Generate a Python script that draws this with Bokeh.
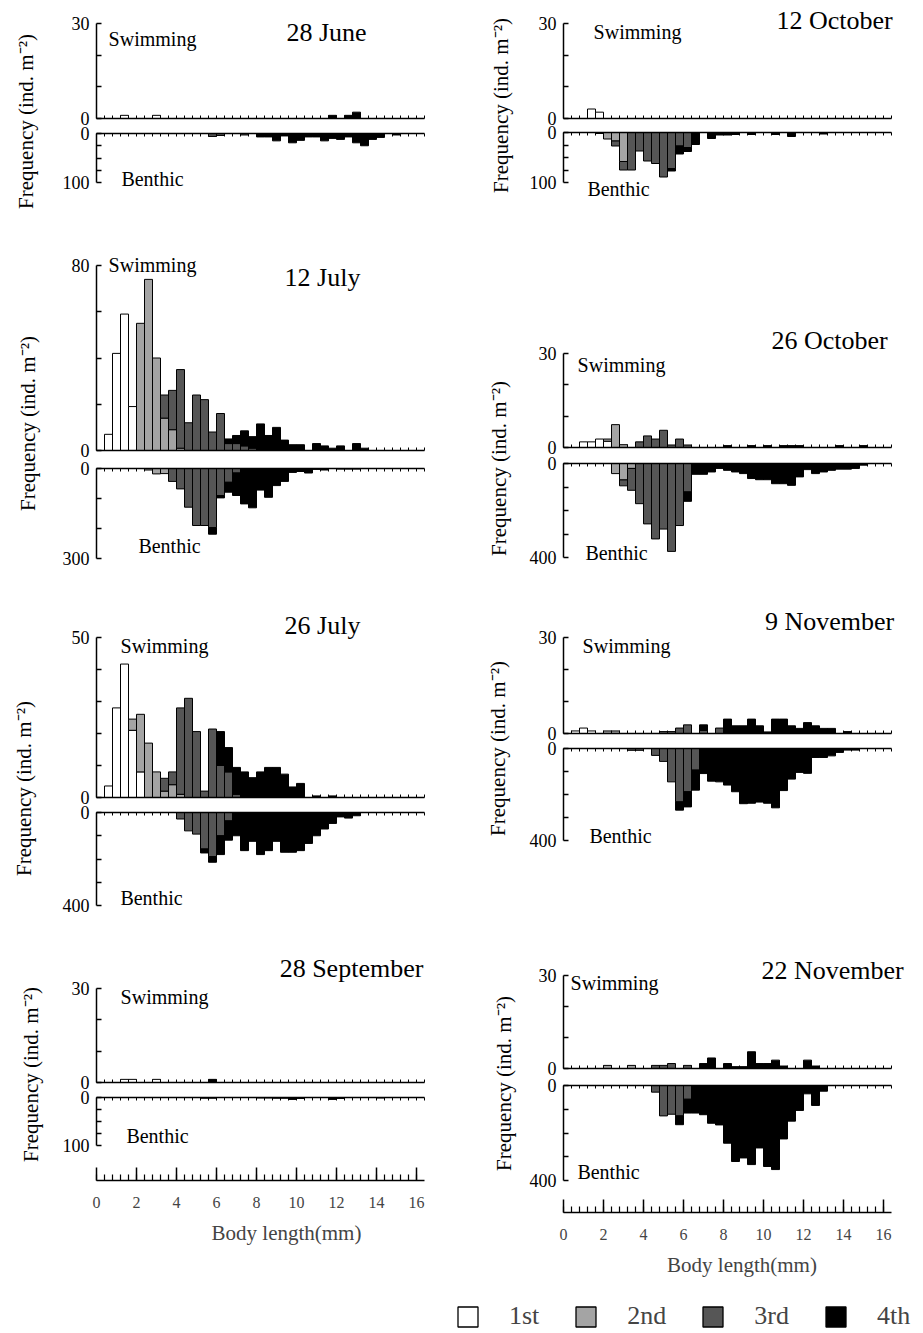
import math
import numpy as np
from bokeh.plotting import figure
from bokeh.models import (Range1d, LinearAxis, FixedTicker, Label, Spacer,
                          Legend, LegendItem, ColumnDataSource)
from bokeh.layouts import column, row
from bokeh.embed import file_html
from bokeh.resources import INLINE

FONT = "Liberation Serif"

# ---------------- data ----------------
BIN_CENTERS = [0.2, 0.6, 1.0, 1.4, 1.8, 2.2, 2.6, 3.0, 3.4, 3.8,
               4.2, 4.6, 5.0, 5.4, 5.8, 6.2, 6.6, 7.0, 7.4, 7.8,
               8.2, 8.6, 9.0, 9.4, 9.8, 10.2, 10.6, 11.0, 11.4, 11.8,
               12.2, 12.6, 13.0, 13.4, 13.8, 14.2, 14.6, 15.0, 15.4, 15.8]
BIN_WIDTH = 0.4
X_MAJOR = [0, 2, 4, 6, 8, 10, 12, 14, 16]
X_AXIS_END = 16.4
INSTARS = ["1st", "2nd", "3rd", "4th"]
INSTAR_COLORS = {"1st": "#ffffff", "2nd": "#a4a4a4", "3rd": "#565656", "4th": "#000000"}

# 28 June
JUN28_SWIM_1ST = [0,0,0,1,0,0,0,1,0,0, 0,0,0,0,0,0,0,0,0,0, 0,0,0,0,0,0,0,0,0,0, 0,0,0,0,0,0,0,0,0,0]
JUN28_SWIM_4TH = [0,0,0,0,0,0,0,0,0,0, 0,0,0,0,0,0,0,0,0,0, 0,0,0,0,0,0,0,0,0,1, 0,1,2,0,0,0,0,0,0,0]
JUN28_BENTH_3RD = [0,0,0,0,0,0,0,0,0,0, 0,0,0,0,6,4,0,0,3,0, 0,0,0,0,0,0,0,0,0,0, 0,0,0,0,0,0,0,0,0,0]
JUN28_BENTH_4TH = [0,0,0,0,0,0,0,0,0,0, 0,0,0,0,0,0,0,0,0,0, 7,7,15,5,19,14,7,7,15,10, 12,7,19,25,12,8,0,3,0,0]

# 12 July
JUL12_SWIM_1ST = [0,7,42,59,19,0,0,0,0,0, 0,0,0,0,0,0,0,0,0,0, 0,0,0,0,0,0,0,0,0,0, 0,0,0,0,0,0,0,0,0,0]
JUL12_SWIM_2ND = [0,0,0,0,0,55,74,40,14,9, 1,0,0,0,0,0,0,0,0,0, 0,0,0,0,0,0,0,0,0,0, 0,0,0,0,0,0,0,0,0,0]
JUL12_SWIM_3RD = [0,0,0,0,0,0,0,0,10,17, 34,12,24,22,8,16,3,3,2,1, 0,0,0,0,0,0,0,0,0,0, 0,0,0,0,0,0,0,0,0,0]
JUL12_SWIM_4TH = [0,0,0,0,0,0,0,0,0,0, 0,0,0,0,0,0,2,3.5,6.5,5, 11.5,6.5,10,4.5,2.5,2.5,0,3,2,1, 2,0,3,1,0,0,0,0,0,0]
JUL12_BENTH_2ND = [0,0,0,0,0,0,5,18,17,0, 0,0,0,0,0,0,0,0,0,0, 0,0,0,0,0,0,0,0,0,0, 0,0,0,0,0,0,0,0,0,0]
JUL12_BENTH_3RD = [0,0,0,0,0,0,0,0,0,43, 68,129,190,190,197,90,46,15,0,0, 0,0,0,0,0,0,0,0,0,0, 0,0,0,0,0,0,0,0,0,0]
JUL12_BENTH_4TH = [0,0,0,0,0,0,0,0,0,0, 0,0,0,0,22,8,33,75,118,131, 72,96,57,43,13,10,15,3,5,0, 2,2,2,0,0,0,0,0,0,0]

# 26 July
JUL26_SWIM_1ST = [0,3.6,28,41.7,21,8,0,0,0,0, 0,0,0,0,0,0,0,0,0,0, 0,0,0,0,0,0,0,0,0,0, 0,0,0,0,0,0,0,0,0,0]
JUL26_SWIM_2ND = [0,0,0,0,3.5,18,17,8,2,4, 1,0,0,0,0,0,0,0,0,0, 0,0,0,0,0,0,0,0,0,0, 0,0,0,0,0,0,0,0,0,0]
JUL26_SWIM_3RD = [0,0,0,0,0,0,0,0,4,4, 27,31,20.6,2,21.4,10,8,1,0,0, 0,0,0,0,0,0,0,0,0,0, 0,0,0,0,0,0,0,0,0,0]
JUL26_SWIM_4TH = [0,0,0,0,0,0,0,0,0,0, 0,0,0,0,0,10.6,7.6,8.4,8,6.2, 8,9.4,9.4,7.3,3.3,4.4,0,0.5,0,0.5, 0,0,0,0,0,0,0,0,0,0]
JUL26_BENTH_3RD = [0,0,0,0,0,0,0,0,0,0, 28,79,93,157,190,100,36,0,0,0, 0,0,0,0,0,0,0,0,0,0, 0,0,0,0,0,0,0,0,0,0]
JUL26_BENTH_4TH = [0,0,0,0,0,0,0,0,0,0, 0,0,0,17,24,81,83,100,164,124, 181,164,124,171,171,164,133,100,71,47, 19,24,14,0,0,0,0,0,0,0]

# 28 September
SEP28_SWIM_1ST = [0,0,0,1,1,0,0,1,0,0, 0,0,0,0,0,0,0,0,0,0, 0,0,0,0,0,0,0,0,0,0, 0,0,0,0,0,0,0,0,0,0]
SEP28_SWIM_4TH = [0,0,0,0,0,0,0,0,0,0, 0,0,0,0,1,0,0,0,0,0, 0,0,0,0,0,0,0,0,0,0, 0,0,0,0,0,0,0,0,0,0]
SEP28_BENTH_3RD = [0,0,0,0,0,0,0,0,0,0, 0,0,0,1.5,1.5,0,0,0,0,0, 0,0,0,0,0,0,0,0,0,0, 0,0,0,0,0,0,0,0,0,0]
SEP28_BENTH_4TH = [0,0,0,0,0,0,0,0,0,0, 0,0,0,0,0,0,0,0,0,0, 1,1,1.5,1.5,4,2,0,0,0,4, 2,0,0,0,0,1,0,0,0,0]

# 12 October
OCT12_SWIM_1ST = [0,0,0,3,2,0,0,0,0,0, 0,0,0,0,0,0,0,0,0,0, 0,0,0,0,0,0,0,0,0,0, 0,0,0,0,0,0,0,0,0,0]
OCT12_BENTH_2ND = [0,0,0,0,2,13,17,58,0,0, 0,0,0,0,0,0,0,0,0,0, 0,0,0,0,0,0,0,0,0,0, 0,0,0,0,0,0,0,0,0,0]
OCT12_BENTH_3RD = [0,0,0,0,0,0,10,17,75,37, 57,62,89,72,27,30,0,0,0,0, 0,0,0,0,0,0,0,0,0,0, 0,0,0,0,0,0,0,0,0,0]
OCT12_BENTH_4TH = [0,0,0,0,0,0,0,0,0,0, 0,0,0,5,16,8,24,0,12,5, 5,4,0,4,0,0,4,0,8,0, 0,0,3,0,0,0,0,0,0,0]

# 26 October
OCT26_SWIM_1ST = [0,0,1.8,1.8,2.7,2,0,0,0,0, 0,0,0,0,0,0,0,0,0,0, 0,0,0,0,0,0,0,0,0,0, 0,0,0,0,0,0,0,0,0,0]
OCT26_SWIM_2ND = [0,0,0,0,0,0.7,7.3,0.9,0,0, 0,0,0,0,0,0,0,0,0,0, 0,0,0,0,0,0,0,0,0,0, 0,0,0,0,0,0,0,0,0,0]
OCT26_SWIM_3RD = [0,0,0,0,0,0,0,0,0,1.8, 3.7,2.7,5.5,0.8,2.7,0.8,0,0,0,0, 0,0,0,0,0,0,0,0,0,0, 0,0,0,0,0,0,0,0,0,0]
OCT26_SWIM_4TH = [0,0,0,0,0,0,0,0,0,0, 0,0,0,0,0,0,0,0,0,0, 0.6,0,0,0.6,0,0.6,0,0.6,0.6,0.6, 0,0,0,0,0.6,0,0,0.6,0,0]
OCT26_BENTH_2ND = [0,0,0,0,0,0,43,70,21,0, 0,0,0,0,0,0,0,0,0,0, 0,0,0,0,0,0,0,0,0,0, 0,0,0,0,0,0,0,0,0,0]
OCT26_BENTH_3RD = [0,0,0,0,0,0,0,25,93,171, 257,321,279,374,264,121,0,0,0,0, 0,0,0,0,0,0,0,0,0,0, 0,0,0,0,0,0,0,0,0,0]
OCT26_BENTH_4TH = [0,0,0,0,0,0,0,0,0,0, 0,0,0,0,0,40,46,46,36,21, 29,36,43,64,69,69,86,86,93,57, 26,43,36,29,24,24,21,7,0,0]

# 9 November
NOV09_SWIM_1ST = [0,0.8,1.7,0.8,0,0,0,0,0,0, 0,0,0,0,0,0,0,0,0,0, 0,0,0,0,0,0,0,0,0,0, 0,0,0,0,0,0,0,0,0,0]
NOV09_SWIM_2ND = [0,0,0,0,0,0.8,0.8,0,0,0, 0,0,0,0,0,0,0,0,0,0, 0,0,0,0,0,0,0,0,0,0, 0,0,0,0,0,0,0,0,0,0]
NOV09_SWIM_3RD = [0,0,0,0,0,0,0,0,0,0, 0,0,0.6,0.6,1.7,2.7,0,1,0,1.7, 0,0,0,0,0,0,0,0,0,0, 0,0,0,0,0,0,0,0,0,0]
NOV09_SWIM_4TH = [0,0,0,0,0,0,0,0,0,0, 0,0,0,0,0,0,0,1.7,0,0, 4.5,2.4,2.4,4.5,2.4,0.5,4.5,4.5,2.4,1.6, 3.4,2.4,1.6,1.6,0,0.6,0,0,0,0]
NOV09_BENTH_3RD = [0,0,0,0,0,0,0,0,8,8, 0,30,56,145,232,188,94,0,0,0, 0,0,0,0,0,0,0,0,0,0, 0,0,0,0,0,0,0,0,0,0]
NOV09_BENTH_4TH = [0,0,0,0,0,0,0,0,0,0, 0,0,0,0,36,66,87,109,142,145, 159,188,240,238,233,238,258,183,133,104, 108,39,39,32,17,7,7,0,0,0]

# 22 November
NOV22_SWIM_2ND = [0,0,0,0,0,1,0,0,1,0, 0,0,0,0,0,0,0,0,0,0, 0,0,0,0,0,0,0,0,0,0, 0,0,0,0,0,0,0,0,0,0]
NOV22_SWIM_3RD = [0,0,0,0,0,0,0,0,0,0, 0,1,1,1.6,0,1,0,0,0,0, 0,0,0,0,0,0,0,0,0,0, 0,0,0,0,0,0,0,0,0,0]
NOV22_SWIM_4TH = [0,0,0,0,0,0,0,0,0,0, 0,0,0,0,0,0,0,1.6,3.4,0, 1.6,0.6,0.6,5.4,1.6,1.6,2.7,0.8,0,0, 2.7,0.8,0,0,0,0,0,0,0,0]
NOV22_BENTH_3RD = [0,0,0,0,0,0,0,0,0,0, 0,28,128,121,128,58,0,0,0,0, 0,0,0,0,0,0,0,0,0,0, 0,0,0,0,0,0,0,0,0,0]
NOV22_BENTH_4TH = [0,0,0,0,0,0,0,0,0,0, 0,0,0,0,37,58,116,123,159,166, 243,320,305,333,263,341,354,225,150,105, 35,84,24,0,0,0,0,0,0,0]

TICKS_30 = [0, 10, 20, 30]
TICKS_50 = [0, 10, 20, 30, 40, 50]
TICKS_80 = [0, 20, 40, 60, 80]
TICKS_100 = [0, 25, 50, 75, 100]
TICKS_300 = [0, 100, 200, 300]
TICKS_400 = [0, 100, 200, 300, 400]

# ---------------- layout geometry (page pixels) ----------------
PANELS_LEFT = [
    dict(title="28 June",
         swim={"1st": JUN28_SWIM_1ST, "4th": JUN28_SWIM_4TH},
         benth={"3rd": JUN28_BENTH_3RD, "4th": JUN28_BENTH_4TH},
         s_ticks=TICKS_30, b_ticks=TICKS_100,
         geo=dict(s_ftop=10, s_atop=23, s_zero=118, b_zero=133, b_axis=182, b_fbot=194),
         txt=dict(title=(326, 32), swim=(152, 38), benth=(152, 178), ylab=(25, 121))),
    dict(title="12 July",
         swim={"1st": JUL12_SWIM_1ST, "2nd": JUL12_SWIM_2ND, "3rd": JUL12_SWIM_3RD, "4th": JUL12_SWIM_4TH},
         benth={"2nd": JUL12_BENTH_2ND, "3rd": JUL12_BENTH_3RD, "4th": JUL12_BENTH_4TH},
         s_ticks=TICKS_80, b_ticks=TICKS_300,
         geo=dict(s_ftop=250, s_atop=265, s_zero=450, b_zero=468, b_axis=558, b_fbot=571),
         txt=dict(title=(322, 277), swim=(152, 264), benth=(169, 545), ylab=(27, 423))),
    dict(title="26 July",
         swim={"1st": JUL26_SWIM_1ST, "2nd": JUL26_SWIM_2ND, "3rd": JUL26_SWIM_3RD, "4th": JUL26_SWIM_4TH},
         benth={"3rd": JUL26_BENTH_3RD, "4th": JUL26_BENTH_4TH},
         s_ticks=TICKS_50, b_ticks=TICKS_400,
         geo=dict(s_ftop=610, s_atop=637, s_zero=797, b_zero=812, b_axis=905, b_fbot=917),
         txt=dict(title=(322, 625), swim=(164, 645), benth=(151, 897), ylab=(23, 788))),
    dict(title="28 September",
         swim={"1st": SEP28_SWIM_1ST, "4th": SEP28_SWIM_4TH},
         benth={"3rd": SEP28_BENTH_3RD, "4th": SEP28_BENTH_4TH},
         s_ticks=TICKS_30, b_ticks=TICKS_100,
         geo=dict(s_ftop=953, s_atop=988, s_zero=1082, b_zero=1097, b_axis=1145, b_fbot=1180),
         txt=dict(title=(351, 968), swim=(164, 996), benth=(157, 1135), ylab=(30, 1074))),
]
PANELS_RIGHT = [
    dict(title="12 October",
         swim={"1st": OCT12_SWIM_1ST},
         benth={"2nd": OCT12_BENTH_2ND, "3rd": OCT12_BENTH_3RD, "4th": OCT12_BENTH_4TH},
         s_ticks=TICKS_30, b_ticks=TICKS_100,
         geo=dict(s_ftop=6, s_atop=23, s_zero=118, b_zero=132, b_axis=182, b_fbot=200),
         txt=dict(title=(834, 20), swim=(637, 31), benth=(618, 188), ylab=(500, 105))),
    dict(title="26 October",
         swim={"1st": OCT26_SWIM_1ST, "2nd": OCT26_SWIM_2ND, "3rd": OCT26_SWIM_3RD, "4th": OCT26_SWIM_4TH},
         benth={"2nd": OCT26_BENTH_2ND, "3rd": OCT26_BENTH_3RD, "4th": OCT26_BENTH_4TH},
         s_ticks=TICKS_30, b_ticks=TICKS_400,
         geo=dict(s_ftop=325, s_atop=353, s_zero=447, b_zero=463, b_axis=557, b_fbot=569),
         txt=dict(title=(829, 340), swim=(621, 364), benth=(616, 552), ylab=(498, 468))),
    dict(title="9 November",
         swim={"1st": NOV09_SWIM_1ST, "2nd": NOV09_SWIM_2ND, "3rd": NOV09_SWIM_3RD, "4th": NOV09_SWIM_4TH},
         benth={"3rd": NOV09_BENTH_3RD, "4th": NOV09_BENTH_4TH},
         s_ticks=TICKS_30, b_ticks=TICKS_400,
         geo=dict(s_ftop=606, s_atop=637, s_zero=733, b_zero=748, b_axis=840, b_fbot=852),
         txt=dict(title=(829, 621), swim=(626, 645), benth=(620, 835), ylab=(497, 748))),
    dict(title="22 November",
         swim={"2nd": NOV22_SWIM_2ND, "3rd": NOV22_SWIM_3RD, "4th": NOV22_SWIM_4TH},
         benth={"3rd": NOV22_BENTH_3RD, "4th": NOV22_BENTH_4TH},
         s_ticks=TICKS_30, b_ticks=TICKS_400,
         geo=dict(s_ftop=955, s_atop=975, s_zero=1068, b_zero=1085, b_axis=1180, b_fbot=1212),
         txt=dict(title=(832, 970), swim=(614, 982), benth=(608, 1171), ylab=(503, 1083))),
]

PX_PER_MM = 20.0
HALF = 11          # room kept on each side of a zero line for its "0" tick label
EDGES = [round(c - BIN_WIDTH / 2, 2) for c in BIN_CENTERS] + [16.0, X_AXIS_END]


def base_fig(w, h, xr, yr, bl, br, bt, bb, **kw):
    p = figure(width=w, height=h, x_range=xr, y_range=yr,
               min_border_left=bl, min_border_right=br,
               min_border_top=bt, min_border_bottom=bb,
               x_axis_location=None, y_axis_location=None,
               output_backend="svg", toolbar_location=None, tools="", **kw)
    p.outline_line_color = None
    p.background_fill_color = "white"
    p.border_fill_color = "white"
    for g in p.grid:
        g.visible = False
    return p


def style_y(ax, ticks):
    ax.ticker = FixedTicker(ticks=[ticks[0], ticks[-1]], minor_ticks=ticks[1:-1])
    ax.bounds = (0, ticks[-1])
    ax.major_tick_in = 5
    ax.major_tick_out = 0
    ax.minor_tick_in = 5
    ax.minor_tick_out = 0
    ax.axis_line_width = 1.5
    ax.major_tick_line_width = 1.5
    ax.minor_tick_line_width = 1.5
    ax.major_label_text_font = FONT
    ax.major_label_text_font_size = "18px"
    ax.major_label_text_color = "black"
    ax.major_label_standoff = 7


def style_zero(ax):
    ax.ticker = FixedTicker(ticks=[], minor_ticks=EDGES)
    ax.bounds = (0, X_AXIS_END)
    ax.major_tick_in = 0
    ax.major_tick_out = 0
    ax.minor_tick_in = 3
    ax.minor_tick_out = 0
    ax.minor_tick_line_width = 1
    ax.axis_line_width = 1.5
    ax.major_label_standoff = 0


def add_bars(p, series):
    cum = np.zeros(len(BIN_CENTERS))
    xs = np.array(BIN_CENTERS)
    for inst in INSTARS:
        if inst not in series:
            continue
        vals = np.array(series[inst], dtype=float)
        m = vals > 0
        src = ColumnDataSource(dict(x=xs[m], bottom=cum[m], top=(cum + vals)[m]))
        p.vbar(x="x", width=BIN_WIDTH, bottom="bottom", top="top", source=src,
               fill_color=INSTAR_COLORS[inst], line_color="black", line_width=1)
        cum = cum + vals


def txt_label(x, y, text, size):
    return Label(x=x, y=y, text=text, text_font=FONT, text_font_size=size,
                 text_align="center", text_baseline="middle", text_color="black")


def make_swim(pn, tb, BL, FW, L):
    g = pn["geo"]
    ticks = pn["s_ticks"]
    smax = ticks[-1]
    frame_h = g["s_zero"] - g["s_ftop"]
    scale = (g["s_zero"] - g["s_atop"]) / smax
    p = base_fig(BL + FW, tb + frame_h + HALF, Range1d(0, FW / PX_PER_MM),
                 Range1d(0, frame_h / scale), BL, 0, tb, HALF)
    ya = LinearAxis()
    style_y(ya, ticks)
    p.add_layout(ya, "left")
    za = LinearAxis()
    style_zero(za)
    p.add_layout(za, "below")
    add_bars(p, pn["swim"])
    tx, ty = pn["txt"]["title"]
    p.add_layout(txt_label((tx - L) / PX_PER_MM, (g["s_zero"] - ty) / scale, pn["title"], "26px"))
    sx, sy = pn["txt"]["swim"]
    p.add_layout(txt_label((sx - L) / PX_PER_MM, (g["s_zero"] - sy) / scale, "Swimming", "20px"))
    return p


def make_benth(pn, BL, FW, L, last, bb):
    g = pn["geo"]
    ticks = pn["b_ticks"]
    bmax = ticks[-1]
    frame_h = g["b_fbot"] - g["b_zero"]
    scale = (g["b_axis"] - g["b_zero"]) / bmax
    gap = g["b_zero"] - g["s_zero"]
    overlap = 2 * HALF - gap   # this canvas slides up under the swimming canvas' empty strip
    p = base_fig(BL + FW, HALF + frame_h + bb, Range1d(0, FW / PX_PER_MM),
                 Range1d(frame_h / scale, 0), BL, 0, HALF, bb,
                 margin=(-overlap, 0, 0, 0))
    p.border_fill_alpha = 0
    ya = LinearAxis()
    style_y(ya, ticks)
    p.add_layout(ya, "left")
    za = LinearAxis()
    style_zero(za)
    p.add_layout(za, "above")
    if last:
        xa = LinearAxis(ticker=FixedTicker(ticks=X_MAJOR, minor_ticks=EDGES[:-1]))
        xa.bounds = (0, X_AXIS_END)
        xa.major_tick_in = 13
        xa.major_tick_out = 0
        xa.minor_tick_in = 6
        xa.minor_tick_out = 0
        xa.axis_line_width = 1.5
        xa.major_tick_line_width = 1.5
        xa.minor_tick_line_width = 1.2
        xa.major_label_text_font = FONT
        xa.major_label_text_font_size = "16px"
        xa.major_label_standoff = 16
        xa.axis_label = "Body length(mm)"
        xa.axis_label_text_font = FONT
        xa.axis_label_text_font_size = "21px"
        xa.axis_label_text_font_style = "normal"
        xa.axis_label_standoff = 10
        p.add_layout(xa, "below")
    add_bars(p, pn["benth"])
    bx, by = pn["txt"]["benth"]
    p.add_layout(txt_label((bx - L) / PX_PER_MM, (by - g["b_zero"]) / scale, "Benthic", "20px"))
    return p


def build_column(panels, L, BL, FW, lab_left, lab_w, last_bb):
    children = []
    cursor = 0
    for i, pn in enumerate(panels):
        g = pn["geo"]
        tb = g["s_ftop"] - cursor if i == 0 else 2
        sp = g["s_ftop"] - tb - cursor
        if sp > 0:
            children.append(Spacer(width=1, height=sp))
        last = i == len(panels) - 1
        bb = last_bb if last else 0
        children.append(make_swim(pn, tb, BL, FW, L))
        children.append(make_benth(pn, BL, FW, L, last, bb))
        cursor = g["b_fbot"] + bb
    total_h = cursor
    lab = base_fig(lab_w, total_h, Range1d(0, lab_w), Range1d(total_h, 0), 0, 0, 0, 0)
    for pn in panels:
        lx, ly = pn["txt"]["ylab"]
        lab.add_layout(Label(x=lx - lab_left, y=ly, text="Frequency (ind. m\u207b\u00b2)",
                             angle=math.pi / 2, text_font=FONT, text_font_size="21px",
                             text_align="center", text_baseline="middle", text_color="black"))
    return row(lab, column(*children)), cursor


# left column: label strip 0..45, axis border 45..96, frame 96..476
left_block, left_end = build_column(PANELS_LEFT, L=96, BL=51, FW=380, lab_left=0, lab_w=45, last_bb=75)
# right column: label strip 476..521, axis border 521..563, frame 563..920
right_block, right_end = build_column(PANELS_RIGHT, L=563, BL=42, FW=357, lab_left=476, lab_w=45, last_bb=70)

# legend
top_of_legend = max(left_end, right_end)
lg_h = 1332 - top_of_legend
lg = base_fig(920, lg_h, Range1d(0, 1), Range1d(0, 1), 0, 0, 0, 0)
items = []
for inst in INSTARS:
    r = lg.vbar(x=[0.5], bottom=[0], top=[1], width=0.1, fill_color=INSTAR_COLORS[inst],
                line_color="black", line_width=1.3, visible=False)
    items.append(LegendItem(label=inst, renderers=[r]))
leg = Legend(items=items, orientation="horizontal", location=(455, 1),
             glyph_width=25, glyph_height=25, label_standoff=29, spacing=34,
             label_text_font=FONT, label_text_font_size="26px",
             inactive_fill_alpha=0,
             border_line_color=None, background_fill_alpha=0, padding=0, margin=0)
lg.add_layout(leg)

layout = column(row(left_block, right_block), lg)

html = file_html(layout, INLINE, "Body length frequency")
open("out.html", "w").write(html)
